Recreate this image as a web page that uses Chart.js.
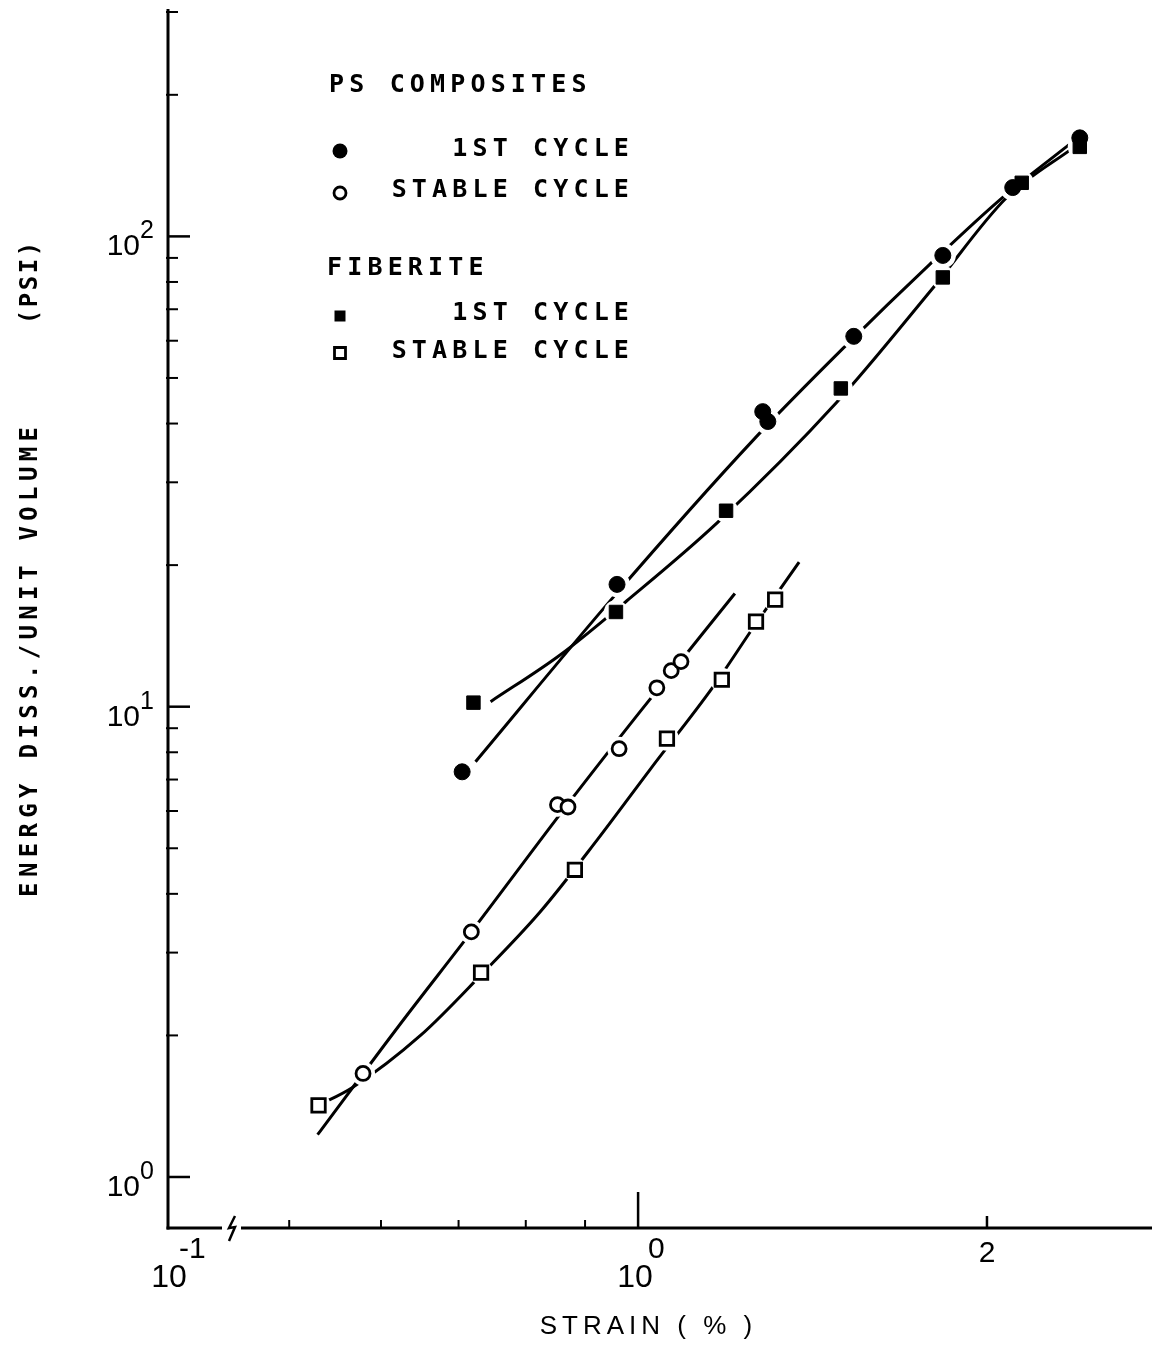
<!DOCTYPE html>
<html>
<head>
<meta charset="utf-8">
<script src="https://cdn.jsdelivr.net/npm/chart.js@4.4.1/dist/chart.umd.min.js"></script>
<style>
  html, body { margin: 0; padding: 0; background: #fff; overflow: hidden; }
  #wrap { width: 1152px; height: 1348px; overflow: hidden; }
  #chart { display: block; width: 1152px; height: 1348px; }
</style>
</head>
<body>
<div id="wrap"><canvas id="chart" width="1152" height="1348"></canvas></div>
<script>
// --- data: strain (%) vs energy dissipated / unit volume (psi) ---

// PS composites, 1st cycle (filled circles)
const psFirstX = [0.705, 0.959, 1.281, 1.294, 1.535, 1.832, 2.105, 2.405];
const psFirstY = [7.27, 18.2, 42.4, 40.4, 61.3, 91.1, 127, 162];
// PS composites, stable cycle (open circles)
const psStableX = [0.579, 0.718, 0.852, 0.870, 0.963, 1.038, 1.068, 1.089];
const psStableY = [1.66, 3.32, 6.19, 6.12, 8.14, 10.97, 11.93, 12.47];
// Fiberite, 1st cycle (filled squares)
const fibFirstX = [0.721, 0.957, 1.191, 1.496, 1.832, 2.143, 2.405];
const fibFirstY = [10.2, 15.9, 26.1, 47.5, 81.8, 130, 155];
// Fiberite, stable cycle (open squares)
const fibStableX = [0.530, 0.732, 0.882, 1.059, 1.181, 1.264, 1.313];
const fibStableY = [1.42, 2.72, 4.50, 8.55, 11.41, 15.17, 16.89];

// hand-drawn fit curves
const psFirstFitX = [0.724, 0.952, 1.261, 1.508, 1.785, 2.059, 2.38];
const psFirstFitY = [7.64, 17.1, 37.2, 58.3, 87.2, 120.5, 160];
const fibFirstFitX = [0.746, 0.857, 0.978, 1.170, 1.484, 1.792, 2.080, 2.38];
const fibFirstFitY = [10.25, 12.9, 16.8, 24.6, 44.4, 77.1, 121, 155];
const psStableFitX = [0.529, 0.623, 0.718, 0.865, 1.004, 1.212];
const psStableFitY = [1.23, 2.11, 3.32, 6.10, 9.76, 17.4];
const fibStableFitX = [0.530, 0.567, 0.649, 0.732, 0.823, 0.922, 1.024, 1.161, 1.261, 1.377];
const fibStableFitY = [1.42, 1.55, 2.0, 2.69, 3.66, 5.21, 7.35, 11.03, 14.9, 20.3];

// --- axis ticks ---
const yMajorTicks = [1, 10, 100];
const yMajorExp = ['0', '1', '2'];
const yMinorTicks = [2, 3, 4, 5, 6, 7, 8, 9, 20, 30, 40, 50, 60, 70, 80, 90, 200, 300];
const xSmallTicks = [0.5, 0.6, 0.7, 0.8, 0.9];
const xOneTick = 1;
const xTwoTick = 2;

const pts = (xs, ys) => xs.map((x, i) => ({ x: x, y: ys[i] }));

const MONO = '"DejaVu Sans Mono", "Liberation Mono", monospace';
const SANS = '"Liberation Sans", Arial, sans-serif';

// one character per fixed cell, like the plotter lettering
function drawMono(ctx, text, left, y, adv) {
    ctx.textAlign = 'center';
    for (let i = 0; i < text.length; i++) {
        ctx.fillText(text[i], left + adv * (i + 0.5), y);
    }
}

// proportional text with extra letter spacing, centred on cx
function drawSpaced(ctx, text, cx, y, extra) {
    ctx.textAlign = 'left';
    let w = 0;
    for (const ch of text) w += ctx.measureText(ch).width + extra;
    w -= extra;
    let x = cx - w / 2;
    for (const ch of text) {
        ctx.fillText(ch, x, y);
        x += ctx.measureText(ch).width + extra;
    }
}

function drawMarker(ctx, kind, x, y, s) {
    ctx.beginPath();
    if (kind === 'circle' || kind === 'ocircle') {
        ctx.arc(x, y, s, 0, Math.PI * 2);
    } else {
        ctx.rect(x - s, y - s, s * 2, s * 2);
    }
    if (kind === 'circle' || kind === 'square') {
        ctx.fill();
    } else {
        ctx.lineWidth = 2.8;
        ctx.stroke();
    }
}

// white halo round the symbols so the lines stop short of them
const markerGaps = {
    id: 'markerGaps',
    beforeDraw(chart) { chart.$gapsDone = false; },
    beforeDatasetDraw(chart, args) {
        const ds = chart.data.datasets[args.index];
        if (chart.$gapsDone || !ds.gap) return;
        chart.$gapsDone = true;
        const ctx = chart.ctx;
        ctx.save();
        ctx.fillStyle = '#fff';
        chart.data.datasets.forEach((d, i) => {
            if (!d.gap) return;
            chart.getDatasetMeta(i).data.forEach(p => {
                ctx.beginPath();
                ctx.arc(p.x, p.y, d.gap, 0, Math.PI * 2);
                ctx.fill();
            });
        });
        ctx.restore();
    }
};

// axes, ticks, labels, titles and key drawn in the plotter style
const plotterFrame = {
    id: 'plotterFrame',
    afterDraw(chart) {
        const ctx = chart.ctx;
        const xs = chart.scales.x, ys = chart.scales.y;
        const a = chart.chartArea;
        ctx.save();
        ctx.strokeStyle = '#000';
        ctx.fillStyle = '#000';
        ctx.lineCap = 'butt';

        // y axis
        ctx.lineWidth = 3;
        ctx.beginPath();
        ctx.moveTo(a.left, a.top - 3);
        ctx.lineTo(a.left, a.bottom + 1.5);
        ctx.stroke();
        ctx.lineWidth = 2.5;
        yMajorTicks.forEach(v => {
            const py = ys.getPixelForValue(v);
            ctx.beginPath(); ctx.moveTo(a.left, py); ctx.lineTo(a.left + 22, py); ctx.stroke();
        });
        ctx.lineWidth = 2;
        yMinorTicks.forEach(v => {
            const py = ys.getPixelForValue(v);
            ctx.beginPath(); ctx.moveTo(a.left - 2, py); ctx.lineTo(a.left + 10, py); ctx.stroke();
        });

        // x axis with break
        const brk = a.left + 62;
        ctx.lineWidth = 3;
        ctx.beginPath();
        ctx.moveTo(a.left - 1.5, a.bottom); ctx.lineTo(brk - 8, a.bottom);
        ctx.moveTo(brk + 11, a.bottom); ctx.lineTo(a.right, a.bottom);
        ctx.stroke();
        ctx.lineWidth = 2.5;
        ctx.beginPath();
        ctx.moveTo(brk + 5, a.bottom - 12);
        ctx.lineTo(brk - 1, a.bottom);
        ctx.lineTo(brk + 5, a.bottom - 1);
        ctx.lineTo(brk - 1, a.bottom + 13);
        ctx.stroke();
        ctx.lineWidth = 2;
        xSmallTicks.forEach(v => {
            const px = xs.getPixelForValue(v);
            ctx.beginPath(); ctx.moveTo(px, a.bottom); ctx.lineTo(px, a.bottom - 8); ctx.stroke();
        });
        ctx.lineWidth = 2.5;
        const px1 = xs.getPixelForValue(xOneTick);
        ctx.beginPath(); ctx.moveTo(px1, a.bottom); ctx.lineTo(px1, a.bottom - 36); ctx.stroke();
        const px2 = xs.getPixelForValue(xTwoTick);
        ctx.beginPath(); ctx.moveTo(px2, a.bottom); ctx.lineTo(px2, a.bottom - 12); ctx.stroke();

        // y tick labels: 10^n
        ctx.textBaseline = 'alphabetic';
        yMajorTicks.forEach((v, i) => {
            const py = ys.getPixelForValue(v);
            ctx.font = '30px ' + SANS;
            ctx.textAlign = 'right';
            ctx.fillText('10', 140, py + 19);
            ctx.font = '25px ' + SANS;
            ctx.textAlign = 'left';
            ctx.fillText(yMajorExp[i], 140, py + 2);
        });

        // x tick labels
        ctx.font = '32px ' + SANS;
        ctx.textAlign = 'center';
        ctx.fillText('10', a.left + 1, a.bottom + 59);
        ctx.fillText('10', px1 - 3, a.bottom + 59);
        ctx.font = '30px ' + SANS;
        ctx.textAlign = 'left';
        ctx.fillText('-1', a.left + 11, a.bottom + 30);
        ctx.fillText('0', px1 + 10, a.bottom + 30);
        ctx.textAlign = 'center';
        ctx.fillText('2', px2, a.bottom + 34);

        // axis titles
        ctx.font = '26px ' + SANS;
        ctx.textBaseline = 'middle';
        drawSpaced(ctx, 'STRAIN ( % )', 646, 1327, 5);

        ctx.font = 'bold 24px ' + MONO;
        ctx.save();
        ctx.translate(31, 0);
        ctx.rotate(-Math.PI / 2);
        const t1 = 'ENERGY DISS./UNIT VOLUME';
        drawMono(ctx, t1, -662 - t1.length * 19.8 / 2, 0, 19.8);
        drawMono(ctx, '(PSI)', -283 - 5 * 17 / 2, 0, 17);
        ctx.restore();

        // key
        ctx.font = 'bold 25px ' + MONO;
        const adv = 20.2;
        drawMono(ctx, 'PS COMPOSITES', 326.5, 85, adv);
        drawMono(ctx, '1ST CYCLE', 631.5 - 9 * adv, 149, adv);
        drawMono(ctx, 'STABLE CYCLE', 631.5 - 12 * adv, 190, adv);
        drawMono(ctx, 'FIBERITE', 324.5, 268, adv);
        drawMono(ctx, '1ST CYCLE', 631.5 - 9 * adv, 313, adv);
        drawMono(ctx, 'STABLE CYCLE', 631.5 - 12 * adv, 351, adv);
        drawMarker(ctx, 'circle', 340, 151, 7.5);
        drawMarker(ctx, 'ocircle', 340, 193, 6);
        drawMarker(ctx, 'square', 340, 316, 5.5);
        drawMarker(ctx, 'osquare', 340, 353, 5.5);

        ctx.restore();
    }
};

const lineStyle = {
    showLine: true, pointRadius: 0, borderColor: '#000', borderWidth: 3,
    cubicInterpolationMode: 'monotone', fill: false, order: 2
};

new Chart(document.getElementById('chart').getContext('2d'), {
    type: 'scatter',
    data: {
        datasets: [
            Object.assign({ label: 'PS 1st fit', data: pts(psFirstFitX, psFirstFitY) }, lineStyle),
            Object.assign({ label: 'Fiberite 1st fit', data: pts(fibFirstFitX, fibFirstFitY) }, lineStyle),
            Object.assign({ label: 'PS stable fit', data: pts(psStableFitX, psStableFitY) }, lineStyle),
            Object.assign({ label: 'Fiberite stable fit', data: pts(fibStableFitX, fibStableFitY) }, lineStyle),
            {
                label: 'PS 1st cycle', data: pts(psFirstX, psFirstY), order: 1, gap: 13,
                pointStyle: 'circle', pointRadius: 8, backgroundColor: '#000',
                borderColor: '#000', borderWidth: 1
            },
            {
                label: 'PS stable cycle', data: pts(psStableX, psStableY), order: 1, gap: 12,
                pointStyle: 'circle', pointRadius: 7, backgroundColor: '#fff',
                borderColor: '#000', borderWidth: 2.8
            },
            {
                label: 'Fiberite 1st cycle', data: pts(fibFirstX, fibFirstY), order: 1, gap: 12,
                pointStyle: 'rect', pointRadius: 9.5, backgroundColor: '#000',
                borderColor: '#000', borderWidth: 1
            },
            {
                label: 'Fiberite stable cycle', data: pts(fibStableX, fibStableY), order: 1, gap: 12,
                pointStyle: 'rect', pointRadius: 9.5, backgroundColor: '#fff',
                borderColor: '#000', borderWidth: 2.8
            }
        ]
    },
    options: {
        responsive: false,
        animation: false,
        layout: { autoPadding: false, padding: { left: 168, top: 12, right: 0, bottom: 120 } },
        plugins: { legend: { display: false }, tooltip: { enabled: false } },
        scales: {
            x: { type: 'logarithmic', min: 0.393, max: 2.776, display: false },
            y: { type: 'logarithmic', min: 0.779, max: 300, display: false }
        }
    },
    plugins: [markerGaps, plotterFrame]
});
</script>
</body>
</html>
